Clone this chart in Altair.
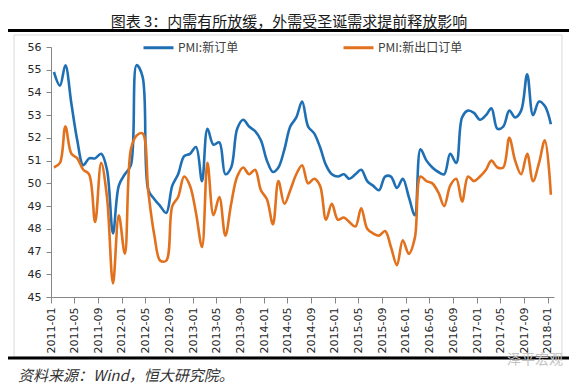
import altair as alt
import pandas as pd

# ---------------- data ----------------
months = pd.date_range("2011-01-01", "2018-01-01", freq="MS").strftime("%Y-%m").tolist()

new_orders = [
    54.9, 54.3, 55.2, 53.5, 51.9, 50.8, 51.1, 51.1, 51.3, 50.6, 47.8, 49.9,
    50.4, 50.8, 55.2, 54.7, 49.7, 49.3, 49.0, 48.7, 49.9, 50.4, 51.2, 51.3,
    51.6, 50.1, 52.4, 51.7, 51.8, 50.4, 50.7, 52.4, 52.8, 52.5, 52.3, 51.9,
    51.0, 50.5, 50.7, 51.5, 52.5, 52.9, 53.6, 52.5, 52.2, 51.6, 50.8, 50.4,
    50.3, 50.4, 50.2, 50.4, 50.6, 50.1, 49.9, 49.7, 50.3, 50.3, 49.8, 50.2,
    49.4, 48.6, 51.5, 51.0, 50.7, 50.5, 50.4, 51.3, 50.9, 52.9, 53.2, 53.1,
    52.8, 53.0, 53.3, 52.4, 52.5, 53.2, 52.9, 53.2, 54.8, 53.0, 53.6, 53.4,
    52.6,
]
export_orders = [
    50.7, 50.9, 52.5, 51.3, 51.1, 50.6, 50.4, 48.3, 50.9, 49.4, 45.6, 48.6,
    46.9, 51.5, 52.1, 52.2, 49.6, 47.7, 46.6, 46.6, 49.0, 49.4, 50.3, 49.9,
    48.7, 47.2, 50.9, 48.6, 49.4, 47.7, 49.1, 50.3, 50.7, 50.4, 50.6, 49.7,
    49.3, 48.2, 50.1, 49.1, 49.7, 50.4, 50.8, 50.0, 50.2, 49.9, 48.4, 49.1,
    48.4, 48.5, 48.3, 48.1, 48.9, 48.0, 47.8, 47.7, 47.9, 47.2, 46.4, 47.5,
    46.9, 47.6, 50.3, 50.1, 50.0, 49.6, 49.0, 49.9, 50.2, 49.2, 50.3, 50.1,
    50.3, 50.6, 51.0, 50.7, 50.7, 52.0, 51.0, 50.4, 51.3, 50.1, 50.9, 51.9,
    49.5,
]
series_names = ["PMI:新订单", "PMI:新出口订单"]
series_colors = ["#1f6fb4", "#e2711d"]
x_tick_months = months[::4]
y_ticks = list(range(45, 57))

TITLE = "图表 3：内需有所放缓，外需受圣诞需求提前释放影响"
SOURCE = "资料来源：Wind，恒大研究院。"
WATERMARK = "泽平宏观"

n = len(months)
df = pd.DataFrame({
    "date": [m + "-16" for m in months] * 2,
    "series": [series_names[0]] * n + [series_names[1]] * n,
    "value": new_orders + export_orders,
})


def dt(ym):
    y, m = ym.split("-")
    return alt.DateTime(year=int(y), month=int(m), date=1, utc=True)


W, H = 503, 250
PAD_L, PAD_T = 43, 39
SVG_W, SVG_H = 561, 377

one = pd.DataFrame({"k": [0]})

box = alt.Chart(one).mark_rect(filled=False, stroke="#d9d9d9", strokeWidth=1).encode(
    x=alt.value(-37), x2=alt.value(511), y=alt.value(-12), y2=alt.value(310)
)

lines = alt.Chart(df).mark_line(strokeWidth=2.6, interpolate="catmull-rom").encode(
    x=alt.X(
        "date:T",
        scale=alt.Scale(type="utc", domain=[dt("2011-01"), dt("2018-02")]),
        axis=alt.Axis(
            values=[dt(m) for m in x_tick_months],
            format="%Y-%m",
            labelAngle=-90,
            labelFont="DejaVu Sans",
            labelFontSize=11,
            labelColor="#262626",
            labelPadding=4,
            labelFlush=False,
            labelOverlap=False,
            tickSize=6,
            tickColor="#868686",
            domainColor="#868686",
            grid=False,
            title=None,
        ),
    ),
    y=alt.Y(
        "value:Q",
        scale=alt.Scale(domain=[45, 56], nice=False, zero=False),
        axis=alt.Axis(
            values=y_ticks,
            labelFont="DejaVu Sans",
            labelFontSize=11,
            labelColor="#262626",
            labelPadding=5,
            labelOverlap=False,
            tickSize=5,
            tickColor="#868686",
            domainColor="#868686",
            grid=False,
            title=None,
        ),
    ),
    color=alt.Color(
        "series:N",
        scale=alt.Scale(domain=series_names, range=series_colors),
        sort=series_names,
        legend=alt.Legend(
            orient="none",
            legendX=91,
            legendY=-16,
            direction="horizontal",
            title=None,
            symbolType="stroke",
            symbolSize=900,
            symbolStrokeWidth=3,
            labelFont="Noto Sans CJK SC",
            labelFontSize=12,
            labelColor="#404040",
            labelOffset=3,
            columnPadding=98,
            padding=0,
        ),
    ),
)

title = alt.Chart(pd.DataFrame({"t": [TITLE]})).mark_text(
    font="Noto Sans CJK SC", fontSize=15, color="#1a1a1a", align="center", baseline="alphabetic"
).encode(x=alt.value(238), y=alt.value(-20.5), text="t:N")

top_rule = alt.Chart(one).mark_rule(color="#000000", strokeWidth=3).encode(
    x=alt.value(-43), x2=alt.value(518), y=alt.value(-16.5)
)

bottom_rule = alt.Chart(one).mark_rule(color="#000000", strokeWidth=3).encode(
    x=alt.value(-43), x2=alt.value(518), y=alt.value(311)
)

source = alt.Chart(pd.DataFrame({"t": [SOURCE]})).mark_text(
    font="Noto Sans CJK SC", fontSize=15, fontStyle="italic", color="#333333",
    align="left", baseline="middle"
).encode(x=alt.value(-33), y=alt.value(329), text="t:N")

watermark = alt.Chart(pd.DataFrame({"t": [WATERMARK]})).mark_text(
    font="Noto Sans CJK SC", fontSize=14, color="#c4c4c4", align="left", baseline="middle"
).encode(x=alt.value(456), y=alt.value(313), text="t:N")

chart = alt.layer(box, lines, title, top_rule, bottom_rule, source, watermark).properties(
    width=W,
    height=H,
    autosize=alt.AutoSizeParams(type="none"),
    padding={"left": PAD_L, "top": PAD_T, "right": SVG_W - PAD_L - W, "bottom": SVG_H - PAD_T - H},
).configure_view(strokeWidth=0)

chart.save("out.html", embed_options={"renderer": "svg", "actions": False})
